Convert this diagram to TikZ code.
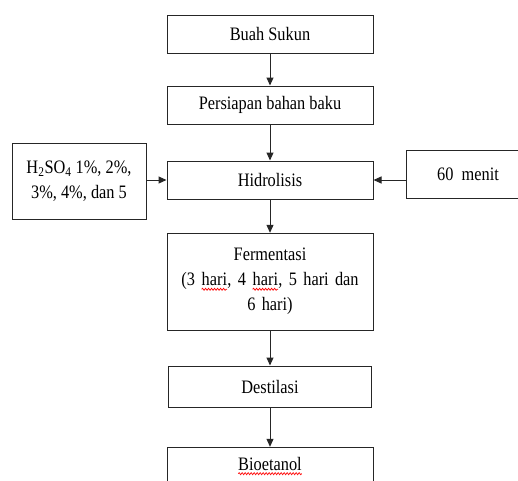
\documentclass[tikz,border=0pt]{standalone}
\usepackage{fontspec}
\setmainfont{Liberation Serif}[FakeStretch=0.86]
\usepackage{tikz}
\usetikzlibrary{arrows.meta, decorations.pathmorphing}
\tikzset{every picture/.style={line width=1pt}}
% red wavy spelling mark under a word
\newcommand\salah[1]{\tikz[baseline=(w.base),x=1cm,y=1cm,-]{%
    \node[inner sep=0pt,outer sep=0pt,draw=none,minimum width=0pt,minimum height=0pt,text width={}] (w) {#1};
    \draw[red,line width=0.7pt,decorate,decoration={snake,amplitude=1pt,segment length=3pt}]
        ([yshift=-3.5pt]w.base west) -- ([yshift=-3.5pt]w.base east);}}

\begin{document}
\begin{tikzpicture}[x=1pt,y=-1pt,
    every edge/.append style={draw=black!85,-{Triangle[length=8pt,width=7pt]}},
    kotak/.style={draw=black!85, rectangle, inner sep=0pt, align=center,
        font=\fontsize{19}{25}\selectfont}]
        \useasboundingbox (0,0) rectangle (518,480);
        \clip (0,0) rectangle (518,480);
        \node[kotak,minimum width=206pt,minimum height=38pt] (buah) at (270,34) {Buah Sukun};
        \node[kotak,minimum width=206pt,minimum height=38pt] (siap) at (270,105) {Persiapan bahan baku};
        \node[kotak,minimum width=206pt,minimum height=38pt] (hidro) at (270,180) {Hidrolisis};
        \node[kotak,minimum width=206pt,minimum height=97pt,text width=190pt] (fermen) at (270,281.5)
            {Fermentasi\\(3 \salah{hari}, 4 \salah{hari}, 5 hari dan\\6 hari)};
        \node[kotak,minimum width=203pt,minimum height=41pt] (destil) at (270,386.5) {Destilasi};
        \node[kotak,minimum width=206pt,minimum height=38pt] (bio) at (270,466) {\salah{Bioetanol}};
        \node[kotak,minimum width=134pt,minimum height=76pt] (asam) at (79,181)
            {H\textsubscript{2}SO\textsubscript{4} 1\%, 2\%,\\3\%, 4\%, dan 5};
        \node[kotak,minimum width=124pt,minimum height=48pt] (waktu) at (468,174) {60~~menit};

        \path
            (buah) edge (siap)
            (siap) edge (hidro)
            (hidro) edge (fermen)
            (fermen) edge (destil)
            (destil) edge (bio)
            (asam.east |- hidro) edge (hidro.west)
            (waktu.west |- hidro) edge (hidro.east)
            ;
    \end{tikzpicture}
\end{document}
